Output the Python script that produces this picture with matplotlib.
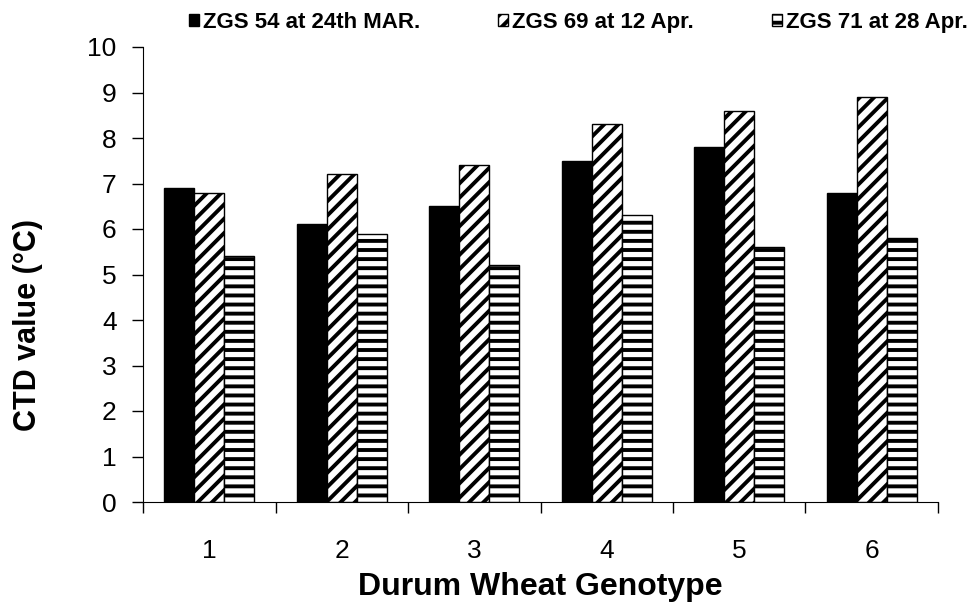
import matplotlib
matplotlib.use("Agg")
import matplotlib.pyplot as plt
from matplotlib.backend_bases import GraphicsContextBase
import numpy as np

genotypes = ["1", "2", "3", "4", "5", "6"]
zgs54 = [6.9, 6.1, 6.5, 7.5, 7.8, 6.8]
zgs69 = [6.8, 7.2, 7.4, 8.3, 8.6, 8.9]
zgs71 = [5.4, 5.9, 5.2, 6.3, 5.6, 5.8]
labels = ["ZGS 54 at 24th MAR.", "ZGS 69 at 12 Apr.", "ZGS 71 at 28 Apr."]

# hatch spacing closer to the original (diagonal ~14 px, stripes ~9 px)
_hatch_path = GraphicsContextBase.get_hatch_path


def _coarse_hatch(self, density=6.0):
    h = self.get_hatch() or ""
    return _hatch_path(self, 14 if "/" in h else 11)


GraphicsContextBase.get_hatch_path = _coarse_hatch

plt.rcParams["font.family"] = ["Liberation Sans", "DejaVu Sans"]
plt.rcParams["hatch.linewidth"] = 2.8

fig = plt.figure(figsize=(9.78, 6.05), dpi=100)
ax = fig.add_axes([143 / 978, 103 / 605, 795 / 978, 455 / 605])

x = np.arange(len(genotypes))
w = 0.227
ax.bar(x - w, zgs54, w, color="black", edgecolor="black", linewidth=1, label=labels[0])
ax.bar(x, zgs69, w, color="white", edgecolor="black", hatch="/", linewidth=1, label=labels[1])
ax.bar(x + w, zgs71, w, color="white", edgecolor="black", hatch="-", linewidth=1, label=labels[2])

ax.set_xlim(-0.5, len(genotypes) - 0.5)
ax.set_ylim(0, 10)
ax.set_yticks(range(0, 11))
ax.tick_params(axis="y", labelsize=19, length=8, width=1, pad=11)
ax.set_xticks(x)
ax.set_xticklabels(genotypes)
ax.tick_params(axis="x", which="major", length=0, pad=27, labelsize=19)
ax.set_xticks(np.arange(-0.5, len(genotypes)), minor=True)
ax.tick_params(axis="x", which="minor", length=8, width=1)
ax.spines["top"].set_visible(False)
ax.spines["right"].set_visible(False)

ax.set_ylabel("CTD value (°C)", fontsize=22, fontweight="bold")
ax.yaxis.set_label_coords(-0.126, 0.389)
ax.set_xlabel("Durum Wheat Genotype", fontsize=23, fontweight="bold")
ax.xaxis.set_label_coords(0.5, -0.153)

ax.legend(loc="upper left", bbox_to_anchor=(189 / 978, 1 - 12 / 605), bbox_transform=fig.transFigure,
          ncol=3, frameon=False, prop={"weight": "bold", "size": 16},
          handlelength=0.45, handleheight=0.45, columnspacing=3.5, handletextpad=0.18,
          borderpad=0, borderaxespad=0)

fig.savefig("out.png", dpi=100)
